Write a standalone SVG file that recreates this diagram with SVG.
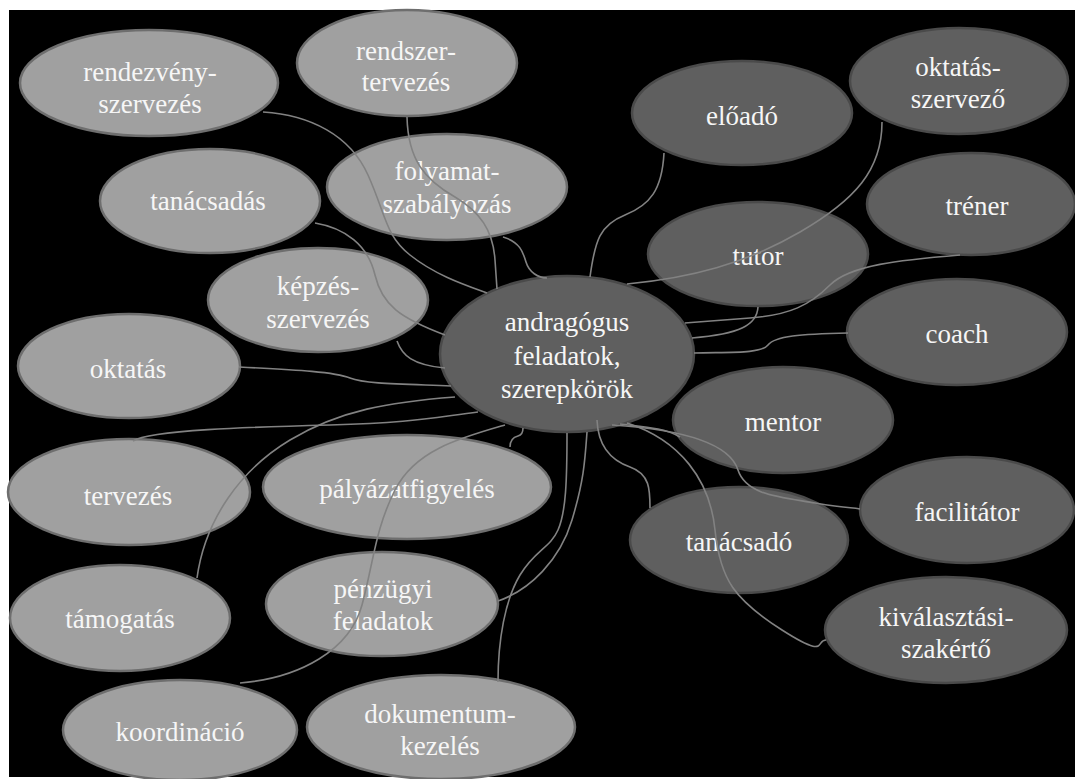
<svg xmlns="http://www.w3.org/2000/svg" width="1075" height="779" viewBox="0 0 1075 779">
<style>
.l ellipse{fill:#a0a0a0;stroke:#6e6e6e;stroke-width:2.5}
.d ellipse{fill:#5f5f5f;stroke:#4a4a4a;stroke-width:2.5}
text{font-family:'Liberation Serif','Times New Roman',serif;font-size:27px;fill:#f6f6f6;text-anchor:middle}
#connectors path{fill:none;stroke:#828282;stroke-width:1.6}
</style>
<rect width="1075" height="779" fill="#ffffff"/>
<rect x="9" y="10" width="1066" height="767" fill="#000000"/>
<g id="n-rendezveny" class="l"><ellipse cx="149" cy="83" rx="129" ry="53"/><text x="150" y="81">rendezvény-</text><text x="150" y="113">szervezés</text></g>
<g id="n-rendszer" class="l"><ellipse cx="407" cy="63" rx="110" ry="53"/><text x="406" y="60">rendszer-</text><text x="406" y="91">tervezés</text></g>
<g id="n-folyamat" class="l"><ellipse cx="447" cy="187" rx="120" ry="53"/><text x="447" y="180">folyamat-</text><text x="447" y="213">szabályozás</text></g>
<g id="n-tanacsadas" class="l"><ellipse cx="210" cy="201" rx="110" ry="52"/><text x="208" y="210">tanácsadás</text></g>
<g id="n-kepzes" class="l"><ellipse cx="318" cy="300" rx="110" ry="52"/><text x="318" y="295">képzés-</text><text x="318" y="328">szervezés</text></g>
<g id="n-oktatas" class="l"><ellipse cx="129" cy="366" rx="111" ry="52"/><text x="128" y="378">oktatás</text></g>
<g id="n-tervezes" class="l"><ellipse cx="129" cy="492" rx="121" ry="53"/><text x="128" y="505">tervezés</text></g>
<g id="n-palyazat" class="l"><ellipse cx="407" cy="487" rx="144" ry="52"/><text x="407" y="498">pályázatfigyelés</text></g>
<g id="n-tamogatas" class="l"><ellipse cx="120" cy="618" rx="110" ry="53"/><text x="120" y="628">támogatás</text></g>
<g id="n-penzugyi" class="l"><ellipse cx="382" cy="604" rx="116" ry="52"/><text x="383" y="598">pénzügyi</text><text x="383" y="630">feladatok</text></g>
<g id="n-koordinacio" class="l"><ellipse cx="180" cy="730" rx="117" ry="50"/><text x="180" y="741">koordináció</text></g>
<g id="n-dokumentum" class="l"><ellipse cx="441" cy="727" rx="134" ry="52"/><text x="440" y="723">dokumentum-</text><text x="440" y="755">kezelés</text></g>
<g id="n-eloado" class="d"><ellipse cx="742" cy="113" rx="110" ry="52"/><text x="742" y="125">előadó</text></g>
<g id="n-oktatasszervezo" class="d"><ellipse cx="959" cy="81" rx="109" ry="53"/><text x="958" y="76">oktatás-</text><text x="958" y="108">szervező</text></g>
<g id="n-trener" class="d"><ellipse cx="971" cy="204" rx="104" ry="51"/><text x="977" y="215">tréner</text></g>
<g id="n-tutor" class="d"><ellipse cx="758" cy="254" rx="110" ry="52"/><text x="758" y="265">tutor</text></g>
<g id="n-coach" class="d"><ellipse cx="957" cy="332" rx="110" ry="53"/><text x="957" y="343">coach</text></g>
<g id="n-mentor" class="d"><ellipse cx="783" cy="420" rx="110" ry="53"/><text x="783" y="431">mentor</text></g>
<g id="n-facilitator" class="d"><ellipse cx="967" cy="510" rx="107" ry="53"/><text x="967" y="521">facilitátor</text></g>
<g id="n-tanacsado" class="d"><ellipse cx="739" cy="540" rx="109" ry="53"/><text x="739" y="551">tanácsadó</text></g>
<g id="n-kivalasztasi" class="d"><ellipse cx="946" cy="630" rx="121" ry="53"/><text x="946" y="626">kiválasztási-</text><text x="946" y="658">szakértő</text></g>
<g id="n-center" class="d"><ellipse cx="567" cy="354" rx="127" ry="78"/><text x="567" y="331">andragógus</text><text x="567" y="365">feladatok,</text><text x="567" y="398">szerepkörök</text></g>
<g id="connectors">
<path d="M263,112 C310,115 350,135 368,175 S385,235 410,255 S465,285 487,293"/>
<path d="M407,117 C408,160 425,180 455,197 C480,212 493,230 495,260 L497,289"/>
<path d="M503,237 C520,242 523,252 526,262 S538,278 547,278"/>
<path d="M315,223 C345,228 368,245 375,275 S400,318 445,335"/>
<path d="M397,341 C402,355 412,365 445,368"/>
<path d="M239,367 C300,370 335,372 350,378 S400,384 451,386"/>
<path d="M133,441 C150,430 250,427 330,425 S430,418 478,412"/>
<path d="M197,578 C205,520 240,470 290,440 S390,402 455,397"/>
<path d="M510,447 C510,440 514,437 518,436 S523,431 523,428"/>
<path d="M498,601 C530,590 560,560 572,520 S585,460 587,432"/>
<path d="M240,683 C300,678 350,650 362,605 S375,530 395,490 S460,438 505,425"/>
<path d="M498,682 C498,640 505,600 520,575 S550,548 558,530 S567,480 567,433"/>
<path d="M664,153 C662,190 650,205 625,215 S595,240 590,277"/>
<path d="M882,122 C882,170 855,200 800,232 S690,278 627,284"/>
<path d="M960,255 C900,260 850,265 830,285 S790,315 750,318 S700,322 685,323"/>
<path d="M758,307 C757,325 740,334 692,338"/>
<path d="M848,333 C800,334 775,336 768,345 S730,352 694,353"/>
<path d="M620,424 C645,427 665,428 680,437"/>
<path d="M612,425 C690,430 730,445 738,470 S780,497 815,503 S850,507 860,509"/>
<path d="M597,420 C598,445 610,460 630,467 S650,490 650,508"/>
<path d="M627,423 C680,440 710,480 715,530 S735,600 782,630 S815,640 826,640"/>
</g>
</svg>
